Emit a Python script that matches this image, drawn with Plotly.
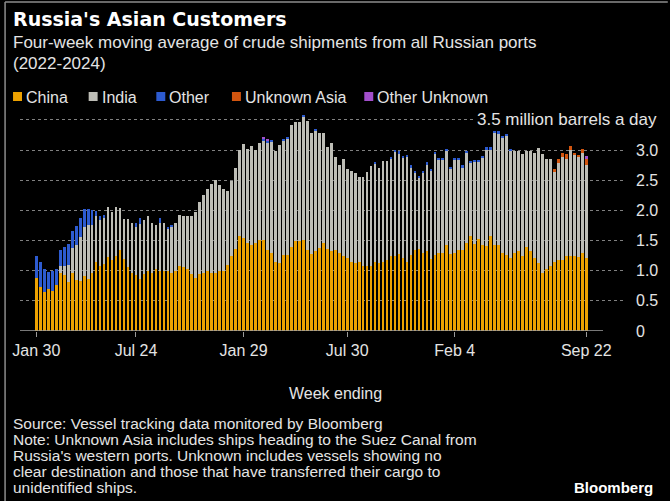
import pandas as pd
import plotly.graph_objects as go

# Weekly observations (week ending), Jan 30 2022 .. Sep 22 2024
weeks = pd.date_range("2022-01-30", periods=139, freq="7D")

# Million barrels a day, four-week moving average
china = [
    0.88, 0.73, 0.64, 0.69, 0.66, 0.76, 0.97, 0.93, 0.81, 0.97,
    0.85, 0.83, 0.92, 0.87, 0.97, 1.14, 1.08, 1.11, 1.23, 1.18,
    1.24, 1.35, 1.19, 1.06, 0.97, 0.93, 0.86, 0.95, 0.99, 0.97,
    1.02, 0.99, 1.00, 0.99, 0.97, 0.99, 1.07, 1.06, 1.02, 0.95,
    0.88, 0.94, 0.97, 0.99, 0.97, 0.97, 0.99, 0.99, 1.10, 1.24,
    1.36, 1.57, 1.54, 1.46, 1.43, 1.46, 1.51, 1.51, 1.35, 1.29,
    1.14, 1.12, 1.26, 1.26, 1.40, 1.50, 1.50, 1.51, 1.35, 1.27,
    1.32, 1.37, 1.46, 1.36, 1.32, 1.35, 1.29, 1.24, 1.21, 1.15,
    1.13, 1.14, 1.08, 1.07, 1.07, 1.14, 1.13, 1.15, 1.18, 1.24,
    1.24, 1.28, 1.21, 1.15, 1.26, 1.35, 1.36, 1.29, 1.32, 1.19,
    1.26, 1.30, 1.30, 1.43, 1.28, 1.30, 1.35, 1.35, 1.46, 1.57,
    1.45, 1.52, 1.43, 1.41, 1.58, 1.43, 1.43, 1.30, 1.26, 1.21,
    1.29, 1.32, 1.24, 1.39, 1.32, 1.21, 1.13, 0.96, 1.03, 1.08,
    1.14, 1.18, 1.18, 1.24, 1.24, 1.24, 1.23, 1.30, 1.21,
]
india = [
    0.00, 0.00, 0.00, 0.00, 0.00, 0.00, 0.10, 0.14, 0.29, 0.40,
    0.57, 0.73, 0.81, 0.89, 0.79, 0.76, 0.76, 0.78, 0.83, 0.79,
    0.82, 0.69, 0.67, 0.79, 0.82, 0.80, 0.92, 0.89, 0.92, 0.82,
    0.74, 0.80, 0.79, 0.71, 0.77, 0.80, 0.85, 0.84, 0.88, 0.95,
    1.10, 1.20, 1.28, 1.36, 1.46, 1.53, 1.43, 1.37, 1.23, 1.25,
    1.35, 1.43, 1.56, 1.56, 1.64, 1.54, 1.61, 1.65, 1.78, 1.85,
    1.85, 1.96, 1.90, 1.94, 2.01, 1.96, 1.96, 2.04, 2.13, 2.02,
    2.00, 1.91, 1.82, 1.69, 1.80, 1.53, 1.46, 1.62, 1.47, 1.51,
    1.49, 1.41, 1.47, 1.57, 1.66, 1.64, 1.58, 1.67, 1.64, 1.62,
    1.73, 1.66, 1.67, 1.74, 1.45, 1.28, 1.19, 1.33, 1.44, 1.47,
    1.67, 1.53, 1.54, 1.55, 1.40, 1.53, 1.48, 1.36, 1.50, 1.21,
    1.36, 1.28, 1.44, 1.60, 1.43, 1.86, 1.84, 1.91, 1.97, 1.78,
    1.69, 1.66, 1.70, 1.60, 1.67, 1.74, 1.91, 1.98, 1.83, 1.78,
    1.50, 1.60, 1.70, 1.62, 1.76, 1.68, 1.66, 1.66, 1.54,
]
other = [
    0.36, 0.42, 0.39, 0.29, 0.33, 0.26, 0.28, 0.33, 0.34, 0.29,
    0.32, 0.32, 0.30, 0.26, 0.24, 0.09, 0.06, 0.03, 0.00, 0.00,
    0.00, 0.00, 0.00, 0.00, 0.00, 0.06, 0.10, 0.00, 0.00, 0.00,
    0.00, 0.09, 0.00, 0.03, 0.02, 0.00, 0.00, 0.00, 0.00, 0.00,
    0.00, 0.00, 0.00, 0.00, 0.00, 0.00, 0.00, 0.00, 0.00, 0.00,
    0.00, 0.00, 0.00, 0.00, 0.00, 0.00, 0.00, 0.03, 0.03, 0.03,
    0.00, 0.00, 0.02, 0.02, 0.00, 0.00, 0.00, 0.03, 0.00, 0.00,
    0.03, 0.00, 0.00, 0.00, 0.00, 0.00, 0.00, 0.00, 0.00, 0.00,
    0.00, 0.00, 0.00, 0.00, 0.00, 0.02, 0.00, 0.00, 0.00, 0.02,
    0.04, 0.04, 0.03, 0.02, 0.04, 0.02, 0.02, 0.04, 0.04, 0.02,
    0.04, 0.04, 0.02, 0.04, 0.04, 0.04, 0.04, 0.04, 0.02, 0.04,
    0.02, 0.04, 0.04, 0.04, 0.04, 0.02, 0.04, 0.02, 0.04, 0.02,
    0.00, 0.00, 0.00, 0.00, 0.00, 0.00, 0.00, 0.00, 0.00, 0.00,
    0.00, 0.00, 0.00, 0.00, 0.00, 0.00, 0.00, 0.00, 0.00,
]
unknown_asia = [0.0] * 130 + [0.05, 0.08, 0.07, 0.07, 0.06, 0.02, 0.02, 0.06, 0.11]
other_unknown = [0.0] * 57 + [0.02, 0.02] + [0.0] * 79 + [0.05]

series_names = ["China", "India", "Other", "Unknown Asia", "Other Unknown"]
series_values = [china, india, other, unknown_asia, other_unknown]
series_colors = ["#EDA100", "#BDBDB6", "#2D5BD0", "#D2550F", "#A24FCB"]

tick_dates = ["2022-01-30", "2022-07-24", "2023-01-29", "2023-07-30", "2024-02-04", "2024-09-22"]
tick_labels = ["Jan 30", "Jul 24", "Jan 29", "Jul 30", "Feb 4", "Sep 22"]
y_ticks = [0, 0.5, 1.0, 1.5, 2.0, 2.5, 3.0, 3.5]
y_labels = ["0", "0.5", "1.0", "1.5", "2.0", "2.5", "3.0", ""]

# Page geometry (pixels)
FIG_W, FIG_H = 670, 501
L, R, T, B = 19, 43, 110, 170
PW = FIG_W - L - R
PH = FIG_H - T - B


def px(x):
    return (x - L) / PW


def py(y):
    return (FIG_H - B - y) / PH


BODY = "Liberation Sans, Arial, sans-serif"
TEXT = "#e4e4e4"

fig = go.Figure()
for name, vals, col in zip(series_names, series_values, series_colors):
    fig.add_trace(go.Bar(x=weeks, y=vals, name=name, marker=dict(color=col, line=dict(width=0)),
                         showlegend=False))

week = pd.Timedelta(days=7)
x_start = weeks[0] - 4.1 * week
x_end = weeks[0] + (PW / 4.005 - 4.1) * week

fig.update_layout(
    width=FIG_W, height=FIG_H,
    margin=dict(l=L, r=R, t=T, b=B),
    paper_bgcolor="black", plot_bgcolor="black",
    barmode="stack", bargap=0.32,
    font=dict(family=BODY, color=TEXT, size=16),
    xaxis=dict(
        type="date", range=[x_start, x_end],
        tickvals=tick_dates, ticktext=tick_labels,
        ticks="outside", ticklen=5, tickcolor="#9a9a9a", tickwidth=1,
        showgrid=False, zeroline=False, showline=False,
        tickfont=dict(size=16, color=TEXT),
    ),
    yaxis=dict(
        range=[0, (FIG_H - B - T) / 60.3], side="right",
        tickvals=y_ticks, ticktext=y_labels,
        showgrid=True, gridcolor="#808080", griddash="dot", gridwidth=1,
        zeroline=False, showline=False, ticks="",
        ticklabelstandoff=10,
        tickfont=dict(size=16, color=TEXT),
    ),
)

# Solid baseline under the bars
fig.add_shape(type="line", xref="x", yref="y",
              x0=x_start, x1=weeks[-1] + 4.2 * week, y0=0, y1=0,
              line=dict(color="#a0a0a0", width=1.5), layer="above")

# Frame edges
fig.add_shape(type="line", xref="paper", yref="paper", x0=px(4), x1=px(4), y0=py(2), y1=py(501),
              line=dict(color="#8c8c8c", width=1.5))
fig.add_shape(type="line", xref="paper", yref="paper", x0=px(4), x1=px(670), y0=py(2), y1=py(2),
              line=dict(color="#8c8c8c", width=1.5))

ann = []
ann.append(dict(text="<b>Russia's Asian Customers</b>", x=px(10), y=py(19),
                font=dict(family="DejaVu Sans, sans-serif", size=19, color="white")))
ann.append(dict(text="Four-week moving average of crude shipments from all Russian ports",
                x=px(10), y=py(42), font=dict(size=17)))
ann.append(dict(text="(2022-2024)", x=px(10), y=py(63), font=dict(size=17)))

# Legend row
legend_x = [12, 88, 156, 232, 365]
for name, col, lx in zip(series_names, series_colors, legend_x):
    fig.add_shape(type="rect", xref="paper", yref="paper",
                  x0=px(lx), x1=px(lx + 9), y0=py(101), y1=py(92),
                  fillcolor=col, line=dict(width=0))
    ann.append(dict(text=name, x=px(lx + 11), y=py(97), font=dict(size=16)))

ann.append(dict(text="3.5 million barrels a day", x=px(661), y=py(119), xanchor="right",
                bgcolor="black", borderpad=1, font=dict(size=17)))
ann.append(dict(text="Week ending", x=px(336), y=py(393), xanchor="center", font=dict(size=16)))

notes = [
    "Source: Vessel tracking data monitored by Bloomberg",
    "Note: Unknown Asia includes ships heading to the Suez Canal from",
    "Russia's western ports. Unknown includes vessels showing no",
    "clear destination and those that have transferred their cargo to",
    "unidentified ships.",
]
for k, line in enumerate(notes):
    ann.append(dict(text=line, x=px(10), y=py(423 + 16 * k), font=dict(size=15.5)))
ann.append(dict(text="<b>Bloomberg</b>", x=px(657), y=py(487), xanchor="right",
                font=dict(size=15, color="white")))

for a in ann:
    a.setdefault("xanchor", "left")
    a.update(xref="paper", yref="paper", yanchor="middle", showarrow=False)
fig.update_layout(annotations=ann)

fig.write_html("out.html")
